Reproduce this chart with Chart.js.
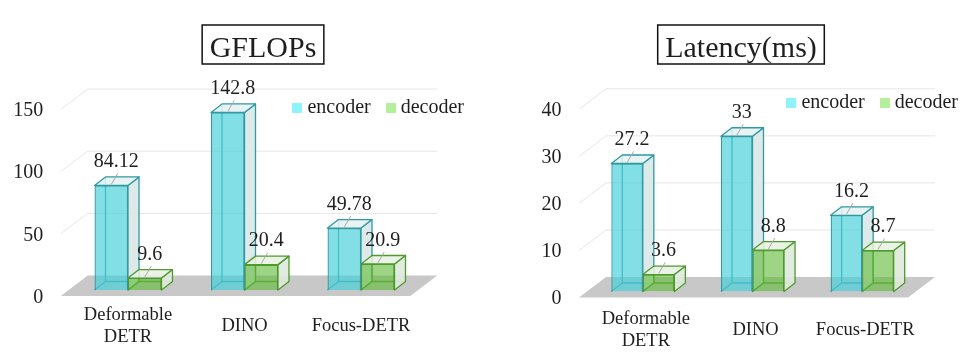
<!DOCTYPE html>
<html>
<head>
<meta charset="utf-8">
<script src="https://cdn.jsdelivr.net/npm/chart.js@4.4.1/dist/chart.umd.min.js"></script>
<style>
  html, body { margin: 0; padding: 0; background: #ffffff; }
  #wrap { position: relative; width: 975px; height: 352px; overflow: hidden; }
  canvas { position: absolute; top: 0; }
</style>
</head>
<body>
<div id="wrap">
  <canvas id="c1" width="487" height="352" style="left:0px"></canvas>
  <canvas id="c2" width="488" height="352" style="left:487px"></canvas>
</div>
<script>
// ---------------- data ----------------
const categories = [['Deformable', 'DETR'], 'DINO', 'Focus-DETR'];
const seriesNames = ['encoder', 'decoder'];
const gflopsEncoder = [84.12, 142.8, 49.78];
const gflopsDecoder = [9.6, 20.4, 20.9];
const latencyEncoder = [27.2, 33, 16.2];
const latencyDecoder = [3.6, 8.8, 8.7];
const gflopsTicks = [0, 50, 100, 150];
const latencyTicks = [0, 10, 20, 30, 40];
const chartTitles = ['GFLOPs', 'Latency(ms)'];

// ---------------- style ----------------
const FONT = '"Liberation Serif", "Times New Roman", Times, serif';
const TEXT = '#1e1e1e';
const FRONT = ['rgba(72,208,218,0.68)', 'rgba(98,188,56,0.62)'];
const EDGE = ['#2e9aa4', '#4e9a2c'];
const SIDE = ['rgba(218,232,231,0.92)', 'rgba(224,233,220,0.92)'];
const TOPF = ['rgba(230,241,241,0.88)', 'rgba(232,241,228,0.88)'];
const LEG = ['#8ef3fb', '#b4f09c'];
const DEPTH = { bx: 11, by: -8.5, fx: -9, fy: 6, kx: 18, ky: -14.5 };

// small square swatches used as legend point styles
const SWATCH = LEG.map(c => {
  const cv = document.createElement('canvas');
  cv.width = 10; cv.height = 10;
  const g = cv.getContext('2d');
  g.fillStyle = c; g.fillRect(0, 0, 10, 10);
  return cv;
});

function poly(ctx, pts, fill, stroke) {
  ctx.beginPath();
  ctx.moveTo(pts[0][0], pts[0][1]);
  for (let i = 1; i < pts.length; i++) ctx.lineTo(pts[i][0], pts[i][1]);
  ctx.closePath();
  if (fill) { ctx.fillStyle = fill; ctx.fill(); }
  if (stroke) { ctx.strokeStyle = stroke; ctx.stroke(); }
}

// walls, floor and the hidden / side / top faces of every box
const box3d = {
  id: 'box3d',
  beforeDatasetsDraw(chart) {
    const { ctx, chartArea: a } = chart;
    const y = chart.scales.y;
    const d = DEPTH;
    ctx.save();
    ctx.lineWidth = 1;
    ctx.strokeStyle = '#e6e6e6';
    y.ticks.forEach(t => {
      if (t.value === 0) return;
      const yy = y.getPixelForValue(t.value);
      ctx.beginPath();
      ctx.moveTo(a.left + d.fx, yy + d.fy);
      ctx.lineTo(a.left + d.kx, yy + d.ky);
      ctx.lineTo(a.right + d.kx, yy + d.ky);
      ctx.stroke();
    });
    const y0 = y.getPixelForValue(0);
    poly(ctx, [[a.left + d.fx, y0 + d.fy], [a.right + d.fx, y0 + d.fy],
               [a.right + d.kx, y0 + d.ky], [a.left + d.kx, y0 + d.ky]], '#c8c8c8', null);

    const metas = chart.data.datasets.map((_, i) => chart.getDatasetMeta(i));
    const n = chart.data.labels.length;
    ctx.lineJoin = 'round';
    for (let j = 0; j < n; j++) {
      metas.forEach((m, di) => {
        const el = m.data[j];
        if (!el) return;
        const p = el.getProps(['x', 'y', 'base', 'width'], true);
        const x0 = p.x - p.width / 2, x1 = p.x + p.width / 2, t = p.y, b = p.base;
        ctx.lineWidth = 1.3;
        ctx.strokeStyle = EDGE[di];
        ctx.beginPath();
        ctx.moveTo(x0, b); ctx.lineTo(x0 + d.bx, b + d.by);
        ctx.lineTo(x1 + d.bx, b + d.by);
        ctx.moveTo(x0 + d.bx, b + d.by); ctx.lineTo(x0 + d.bx, t + d.by);
        ctx.stroke();
        poly(ctx, [[x1, t], [x1 + d.bx, t + d.by], [x1 + d.bx, b + d.by], [x1, b]], SIDE[di], EDGE[di]);
        poly(ctx, [[x0, t], [x1, t], [x1 + d.bx, t + d.by], [x0 + d.bx, t + d.by]], TOPF[di], EDGE[di]);
      });
    }
    ctx.restore();
  }
};

// value labels with small leader lines
const valueLabels = {
  id: 'valueLabels',
  afterDatasetsDraw(chart) {
    const ctx = chart.ctx;
    ctx.save();
    chart.data.datasets.forEach((ds, di) => {
      chart.getDatasetMeta(di).data.forEach((el, j) => {
        const p = el.getProps(['x', 'y'], true);
        ctx.strokeStyle = '#a8a8a8';
        ctx.lineWidth = 1;
        ctx.beginPath();
        ctx.moveTo(p.x + 6.5, p.y - 12);
        ctx.lineTo(p.x, p.y - 1);
        ctx.stroke();
        ctx.fillStyle = TEXT;
        ctx.font = '20px ' + FONT;
        ctx.textAlign = 'center';
        ctx.textBaseline = 'alphabetic';
        ctx.fillText(String(ds.data[j]), p.x + 5, p.y - 18.5);
      });
    });
    ctx.restore();
  }
};

// boxed title
const boxedTitle = {
  id: 'boxedTitle',
  afterDraw(chart, args, o) {
    const ctx = chart.ctx;
    ctx.save();
    ctx.font = '30px ' + FONT;
    const w = ctx.measureText(o.text).width;
    ctx.fillStyle = TEXT;
    ctx.textAlign = 'center';
    ctx.textBaseline = 'alphabetic';
    ctx.fillText(o.text, o.cx, o.baseline);
    ctx.strokeStyle = '#111111';
    ctx.lineWidth = 1.5;
    ctx.strokeRect(o.cx - w / 2 - 7.5, o.top, w + 15, o.height);
    ctx.restore();
  }
};

// move the legend inside the plot area (top right)
const legendShift = {
  id: 'legendShift',
  afterLayout(chart, args, o) {
    const lg = chart.legend;
    if (!lg) return;
    const pad = lg.options.labels.padding;
    const dy = (o.cy - 10 - pad) - lg.top;
    const dx = o.right - lg.right;
    lg.top += dy; lg.bottom += dy;
    lg.left += dx; lg.right += dx;
  }
};

function makeChart(id, enc, dec, ticks, title, L) {
  return new Chart(document.getElementById(id), {
    type: 'bar',
    data: {
      labels: categories,
      datasets: [
        { label: seriesNames[0], data: enc, backgroundColor: FRONT[0], borderColor: EDGE[0], borderWidth: 1.3 },
        { label: seriesNames[1], data: dec, backgroundColor: FRONT[1], borderColor: EDGE[1], borderWidth: 1.3 }
      ]
    },
    options: {
      responsive: false,
      animation: false,
      devicePixelRatio: 1,
      layout: { padding: { top: L.padTop, right: L.padRight, left: 0, bottom: 0 } },
      datasets: { bar: { categoryPercentage: 0.575, barPercentage: 1 } },
      scales: {
        x: {
          grid: { display: false, drawTicks: false },
          border: { display: false },
          ticks: {
            font: { size: 18.5, family: FONT }, color: TEXT,
            padding: L.xPad, labelOffset: L.xOff, crossAlign: 'center',
            maxRotation: 0, autoSkip: false
          },
          afterFit: s => { s.height = L.xHeight; }
        },
        y: {
          min: 0,
          max: ticks[ticks.length - 1],
          grid: { display: false, drawTicks: false },
          border: { display: false },
          afterBuildTicks: s => { s.ticks = ticks.map(v => ({ value: v })); },
          ticks: { font: { size: 20, family: FONT }, color: TEXT, padding: 26.5, labelOffset: 7.5 },
          afterFit: s => { s.width = L.yWidth; }
        }
      },
      plugins: {
        title: { display: false },
        tooltip: { enabled: false },
        legend: {
          position: 'top',
          align: 'end',
          labels: {
            font: { size: 20, family: FONT },
            color: TEXT,
            usePointStyle: true,
            pointStyleWidth: 0.01,
            boxWidth: 10,
            boxHeight: 10,
            padding: 20,
            generateLabels(chart) {
              const items = Chart.defaults.plugins.legend.labels.generateLabels(chart);
              items.forEach((it, i) => {
                it.fillStyle = LEG[i]; it.strokeStyle = LEG[i]; it.lineWidth = 0;
                it.pointStyle = SWATCH[i];
              });
              return items;
            }
          }
        },
        boxedTitle: { text: title, cx: L.titleX, top: 25, height: 39, baseline: 56.5 },
        legendShift: { cy: L.legY, right: L.legRight }
      }
    },
    plugins: [box3d, valueLabels, boxedTitle, legendShift]
  });
}

makeChart('c1', gflopsEncoder, gflopsDecoder, gflopsTicks, chartTitles[0], {
  padTop: 53.5, padRight: 67.75, yWidth: 69.75, xHeight: 62, xPad: 25, xOff: 0,
  titleX: 263, legY: 108, legRight: 484
});
makeChart('c2', latencyEncoder, latencyDecoder, latencyTicks, chartTitles[1], {
  padTop: 53.3, padRight: 58, yWidth: 101, xHeight: 60.5, xPad: 27.5, xOff: 3,
  titleX: 254, legY: 103, legRight: 491
});
</script>
</body>
</html>
